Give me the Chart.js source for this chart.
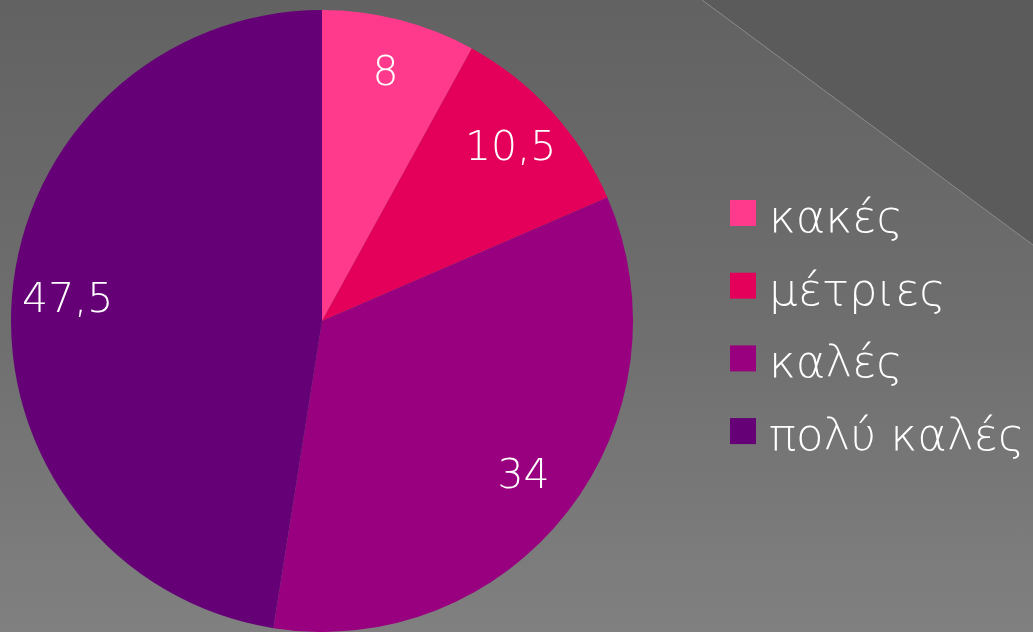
<!DOCTYPE html>
<html>
<head>
<meta charset="utf-8">
<script src="https://cdn.jsdelivr.net/npm/chart.js@4/dist/chart.umd.min.js"></script>
<style>
  html, body { margin: 0; padding: 0; }
  body {
    width: 1033px; height: 632px; overflow: hidden; position: relative;
    background: linear-gradient(to bottom, #626262 0%, #6e6e6e 50%, #808080 100%);
  }
  #deco { position: absolute; left: 0; top: 0; }
  #wrap { position: absolute; left: 0; top: 0; width: 1033px; height: 632px; }
</style>
</head>
<body>
<svg id="deco" width="1033" height="632">
  <polygon points="702,0 1033,0 1033,245" fill="#5b5b5b"/>
  <line x1="702" y1="0" x2="1033" y2="245" stroke="#8c8c8c" stroke-width="1"/>
</svg>
<div id="wrap"><canvas id="mycanvas" width="1033" height="632"></canvas></div>
<script>
var labels = ["κακές", "μέτριες", "καλές", "πολύ καλές"];
var values = [8, 10.5, 34, 47.5];
var valueText = ["8", "10,5", "34", "47,5"];
var colors = ["#ff3a8c", "#e4005a", "#99007f", "#650077"];

var FONT = "'DejaVu Sans', sans-serif";

// value labels inside the slices
var sliceLabels = {
	id: "sliceLabels",
	afterDatasetsDraw: function(chart) {
		var ctx = chart.ctx;
		var meta = chart.getDatasetMeta(0);
		ctx.save();
		ctx.fillStyle = "#ffffff";
		ctx.font = "200 41px " + FONT;
		ctx.textAlign = "center";
		ctx.textBaseline = "middle";
		meta.data.forEach(function(arc, i) {
			var p = arc.getProps(["x", "y", "startAngle", "endAngle", "outerRadius"], true);
			var mid = (p.startAngle + p.endAngle) / 2;
			var r = p.outerRadius * 0.82;
			ctx.fillText(valueText[i], p.x + Math.cos(mid) * r, p.y + Math.sin(mid) * r);
		});
		ctx.restore();
	}
};

// legend on the right
var sideLegend = {
	id: "sideLegend",
	afterDraw: function(chart) {
		var ctx = chart.ctx;
		ctx.save();
		ctx.font = "200 45px " + FONT;
		ctx.textAlign = "left";
		ctx.textBaseline = "alphabetic";
		for (var i = 0; i < labels.length; i++) {
			var cy = 213 + i * 72.7;
			ctx.fillStyle = colors[i];
			ctx.fillRect(730, cy - 13, 26, 26);
			ctx.fillStyle = "#ffffff";
			ctx.fillText(labels[i], 769, cy + 19);
		}
		ctx.restore();
	}
};

var ctx = document.getElementById("mycanvas");
var pieChart = new Chart(ctx, {
	type: "pie",
	data: {
		labels: labels,
		datasets: [{
			data: values,
			backgroundColor: colors,
			borderWidth: 0
		}]
	},
	options: {
		responsive: false,
		animation: false,
		layout: { padding: { left: 10, top: 10, right: 399, bottom: 0 } },
		plugins: {
			legend: { display: false },
			tooltip: { enabled: false }
		}
	},
	plugins: [sliceLabels, sideLegend]
});
</script>
</body>
</html>
